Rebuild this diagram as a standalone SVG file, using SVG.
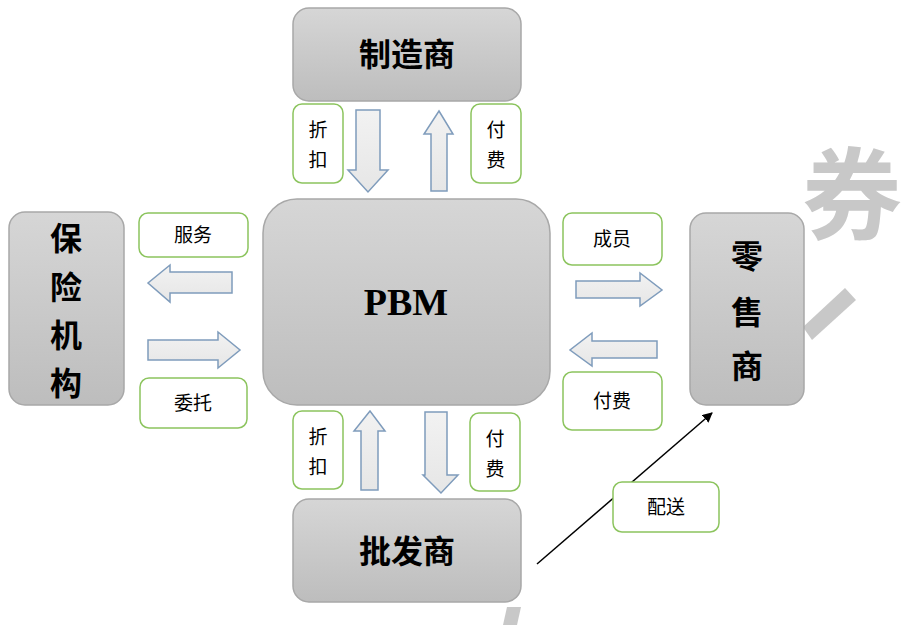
<svg xmlns="http://www.w3.org/2000/svg" width="915" height="625" viewBox="0 0 915 625">
<defs>
<linearGradient id="gbox" x1="0" y1="0" x2="0" y2="1">
<stop offset="0" stop-color="#d6d6d6"/><stop offset="1" stop-color="#bdbdbd"/>
</linearGradient>
<linearGradient id="garr" x1="0" y1="0" x2="0" y2="1">
<stop offset="0" stop-color="#f2f2f2"/><stop offset="1" stop-color="#e6e6e6"/>
</linearGradient>
<marker id="ah" markerWidth="10" markerHeight="10" refX="9" refY="5" orient="auto" markerUnits="userSpaceOnUse">
<path d="M0,0 L10,5 L0,10 Z" fill="#000"/>
</marker>
</defs>
<style>
.box{fill:url(#gbox);stroke:#a8a8a8;stroke-width:1.5}
.lbl{fill:#fff;stroke:#8cc45e;stroke-width:1.5}
.arr{fill:url(#garr);stroke:#7f9cbc;stroke-width:1.5}
.t{font-family:"Noto Sans CJK SC",sans-serif;font-weight:bold;font-size:32px;fill:#000;text-anchor:middle}
.s{font-family:"Noto Sans CJK SC",sans-serif;font-size:19px;fill:#000;text-anchor:middle}
.wm{fill:#c8c8c8}
</style>
<rect width="915" height="625" fill="#fff"/>
<g id="watermark">
<text x="852" y="232" font-family="Noto Sans CJK SC,sans-serif" font-weight="bold" font-size="100" fill="#c8c8c8" text-anchor="middle">券</text>
<path class="wm" d="M803,327 L845,288 L856,300 L812,340 Z"/>
<path class="wm" d="M507,607 L521,607 L517,625 L503,625 Z"/>
</g>
<g id="connectors">
<path class="arr" d="M356,110 H380 V170 H388 L368,192 L348,170 H356 Z"/>
<path class="arr" d="M431,191 H447 V134 H453 L439,111 L424,134 H431 Z"/>
<path class="arr" d="M232,272 H170 V265 L148,283 L170,302 V293 H232 Z"/>
<path class="arr" d="M148,340 H218 V332 L240,350 L218,368 V360 H148 Z"/>
<path class="arr" d="M576,281 H640 V273 L662,290 L640,306 V298 H576 Z"/>
<path class="arr" d="M657,341 H592 V333 L570,350 L592,366 V358 H657 Z"/>
<path class="arr" d="M361,490 H378 V431 H385 L370,411 L354,431 H361 Z"/>
<path class="arr" d="M425,412 H447 V475 H458 L441,493 L423,475 H425 Z"/>
<line x1="537" y1="564" x2="712" y2="413" stroke="#000" stroke-width="1.5" marker-end="url(#ah)"/>
</g>
<g id="manufacturer"><rect class="box" x="293" y="8" width="228" height="93" rx="16"/><text class="t" x="407" y="66">制造商</text></g>
<g id="pbm"><rect class="box" x="263" y="199" width="287" height="206" rx="34"/><text x="406" y="315" font-family="Liberation Serif,serif" font-weight="bold" font-size="38" text-anchor="middle">PBM</text></g>
<g id="insurer"><rect class="box" x="9" y="212" width="115" height="193" rx="16"/>
<text class="t" x="66" y="250" font-size="34">保</text><text class="t" x="66" y="299" font-size="34">险</text><text class="t" x="66" y="347" font-size="34">机</text><text class="t" x="66" y="395" font-size="34">构</text></g>
<g id="retailer"><rect class="box" x="690" y="213" width="114" height="192" rx="16"/>
<text class="t" x="747" y="268" font-size="34">零</text><text class="t" x="747" y="324" font-size="34">售</text><text class="t" x="747" y="378" font-size="34">商</text></g>
<g id="wholesaler"><rect class="box" x="293" y="499" width="228" height="103" rx="16"/><text class="t" x="407" y="563">批发商</text></g>
<g id="lbl-top-discount"><rect class="lbl" x="293" y="104" width="50" height="79" rx="9"/><text class="s" x="318" y="137">折</text><text class="s" x="318" y="167">扣</text></g>
<g id="lbl-top-pay"><rect class="lbl" x="471" y="104" width="50" height="79" rx="9"/><text class="s" x="496" y="137">付</text><text class="s" x="496" y="167">费</text></g>
<g id="lbl-service"><rect class="lbl" x="139" y="213" width="109" height="44" rx="9"/><text class="s" x="193" y="242">服务</text></g>
<g id="lbl-entrust"><rect class="lbl" x="140" y="378" width="107" height="50" rx="9"/><text class="s" x="193" y="410">委托</text></g>
<g id="lbl-member"><rect class="lbl" x="563" y="213" width="99" height="52" rx="9"/><text class="s" x="612" y="246">成员</text></g>
<g id="lbl-right-pay"><rect class="lbl" x="563" y="372" width="99" height="58" rx="9"/><text class="s" x="612" y="408">付费</text></g>
<g id="lbl-bot-discount"><rect class="lbl" x="293" y="411" width="50" height="78" rx="9"/><text class="s" x="318" y="444">折</text><text class="s" x="318" y="474">扣</text></g>
<g id="lbl-bot-pay"><rect class="lbl" x="470" y="413" width="50" height="78" rx="9"/><text class="s" x="495" y="446">付</text><text class="s" x="495" y="476">费</text></g>
<g id="lbl-delivery"><rect class="lbl" x="613" y="482" width="106" height="50" rx="9"/><text class="s" x="666" y="514">配送</text></g>
</svg>
